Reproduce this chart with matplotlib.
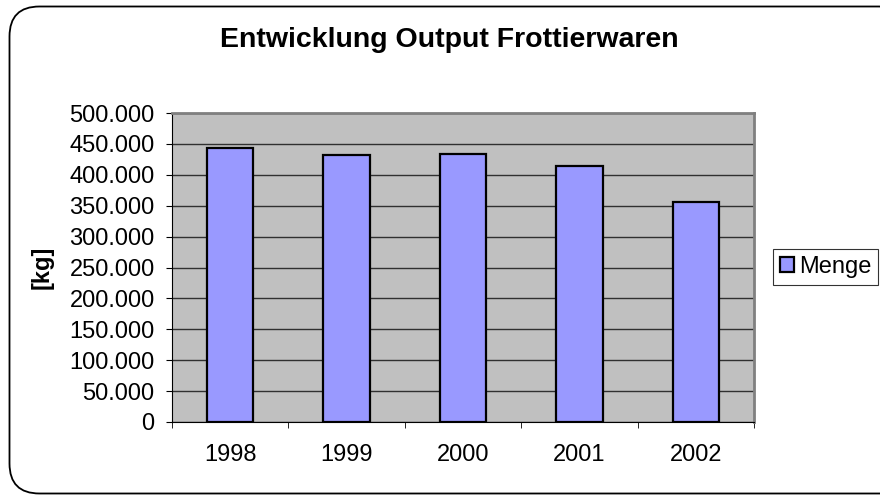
import matplotlib
matplotlib.use("Agg")
import matplotlib.pyplot as plt
from matplotlib.patches import FancyBboxPatch
from matplotlib.ticker import FuncFormatter
import numpy as np

plt.rcParams['font.family'] = ['Liberation Sans', 'DejaVu Sans']

jahre = ['1998', '1999', '2000', '2001', '2002']
menge = [444000, 432000, 434000, 414000, 356000]
yticks = [0, 50000, 100000, 150000, 200000, 250000, 300000, 350000, 400000, 450000, 500000]

W, H = 880, 495
fig = plt.figure(figsize=(W / 100, H / 100), dpi=100)

# rounded outer frame (runs off the right edge like the original)
frame = FancyBboxPatch((9.5, 1.5), 900, 487, boxstyle="round,pad=0,rounding_size=30",
                       transform=None, fill=False, edgecolor='black', lw=1.3)
fig.patches.append(frame)

ax = fig.add_axes([172 / W, 1 - 422 / H, (754 - 172) / W, (422 - 113) / H])
ax.set_facecolor('#c0c0c0')
x = np.arange(len(jahre))
ax.bar(x, menge, width=0.40, color='#9999ff', edgecolor='black', lw=1.6,
       label='Menge', zorder=3)

ax.set_ylim(0, 500000)
ax.set_xlim(-0.5, len(jahre) - 0.5)
ax.set_yticks(yticks)
ax.yaxis.set_major_formatter(FuncFormatter(lambda v, p: f"{int(v):,}".replace(',', '.')))
ax.yaxis.grid(True, color='#303030', lw=1.0, zorder=1)
ax.set_axisbelow(True)

ax.set_xticks(x)
ax.set_xticklabels(jahre)
ax.tick_params(axis='x', length=0, labelsize=17, pad=16)
ax.set_xticks(np.arange(-0.5, len(jahre)), minor=True)
ax.tick_params(axis='x', which='minor', length=4.5, direction='out', color='black')
ax.tick_params(axis='y', length=4.5, direction='out', labelsize=17, pad=8)

for s in ['top', 'right']:
    ax.spines[s].set_color('#808080')
    ax.spines[s].set_linewidth(2)
ax.spines['left'].set_color('black')
ax.spines['bottom'].set_color('black')

ax.set_ylabel('[kg]', fontsize=17, fontweight='bold', labelpad=11)
fig.text(449 / W, 1 - 47 / H, 'Entwicklung Output Frottierwaren', ha='center', va='baseline',
         fontsize=20.5, fontweight='bold')

leg = ax.legend(loc='upper left', bbox_to_anchor=(773 / W, 1 - 249 / H),
                bbox_transform=fig.transFigure, fontsize=17, frameon=True,
                fancybox=False, edgecolor='black', handlelength=0.6, handleheight=0.6,
                handletextpad=0.2, borderpad=0.3, borderaxespad=0)
leg.get_frame().set_linewidth(0.8)

fig.savefig('out.png', dpi=100)
